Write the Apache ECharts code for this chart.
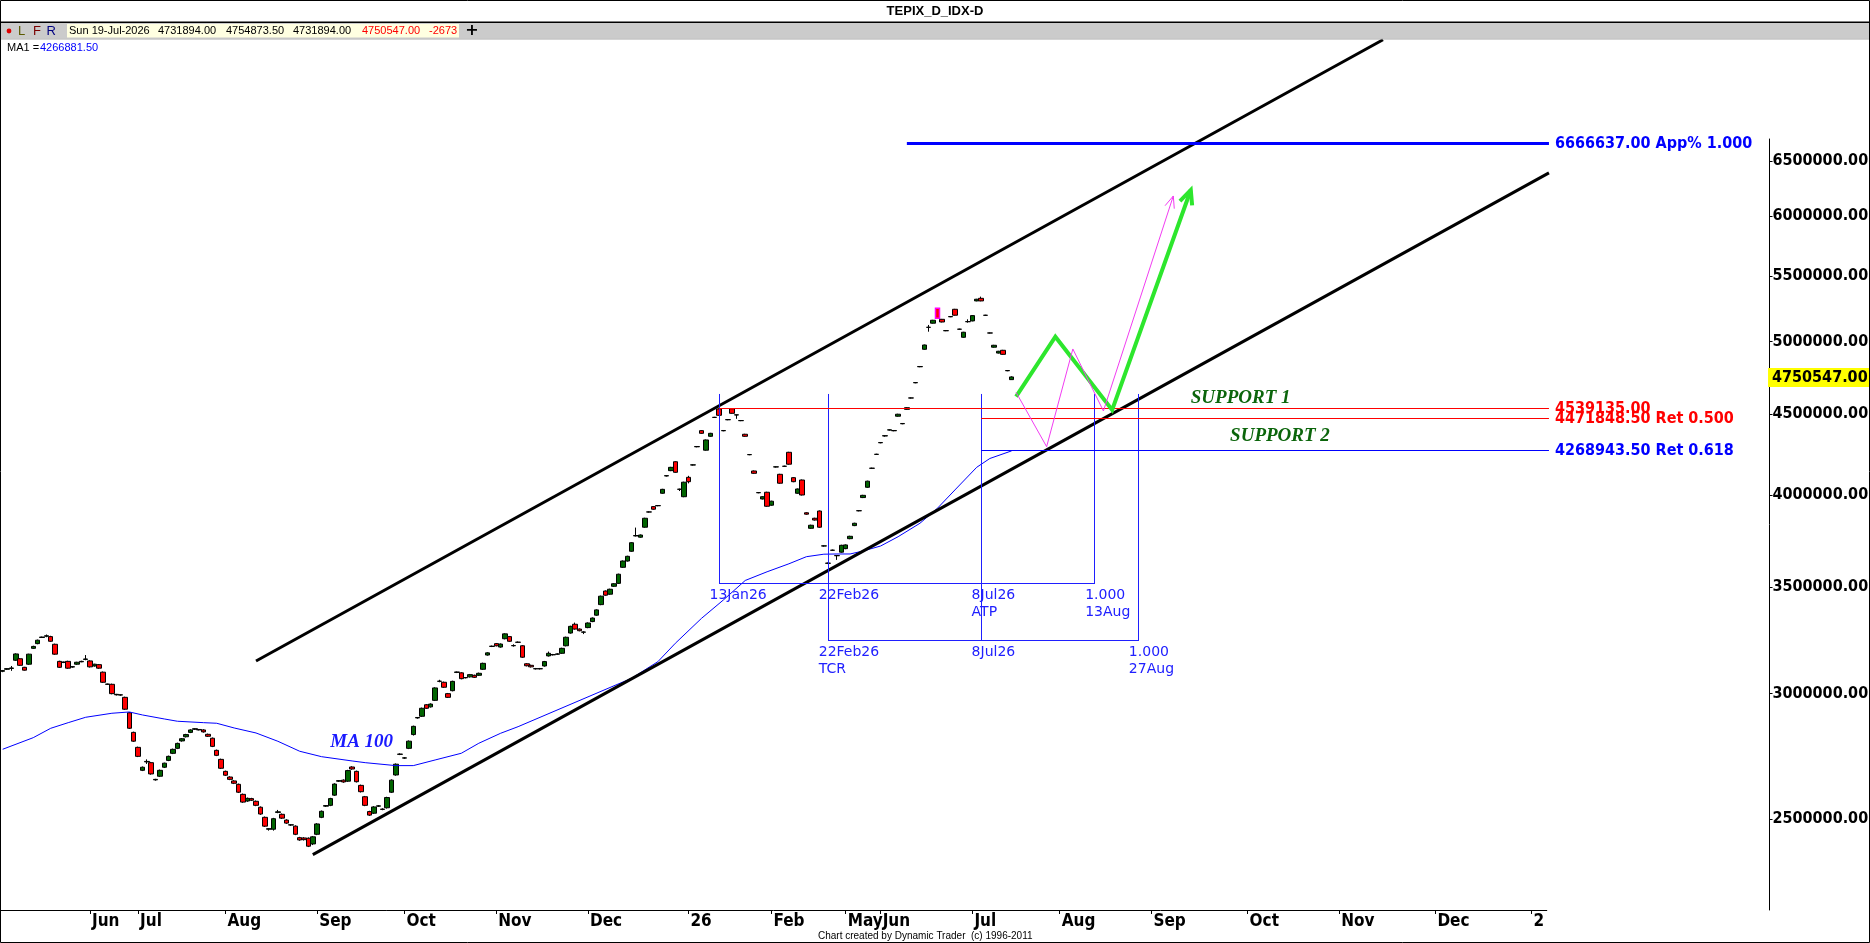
<!DOCTYPE html>
<html>
<head>
<meta charset="utf-8">
<title>TEPIX_D_IDX-D</title>
<script src="https://cdn.jsdelivr.net/npm/echarts@6.0.0/dist/echarts.min.js"></script>
<style>
html, body { margin: 0; padding: 0; background: #fff; overflow: hidden; }
#chart { width: 1870px; height: 943px; }
</style>
</head>
<body>
<div id="chart"></div>
<script>
// ---------------- DATA (index points, in thousands) ----------------
const UNIT = 1000;

const opens = [
3098,3107,3111,3148,3155,3116,3130,3203,3225,3254,
3260,3258,3222,3143,3138,3143,3117,3130,3141,3152,
3145,3122,3128,3094,3040,3040,2994,2993,2983,2917,
2835,2774,2683,2716,2713,2646,2660,2695,2722,2750,
2770,2800,2817,2835,2848,2847,2845,2827,2811,2762,
2726,2679,2657,2642,2629,2591,2566,2575,2565,2543,
2506,2463,2463,2524,2517,2496,2478,2474,2433,2432,
2431,2411,2445,2506,2547,2550,2588,2641,2645,2641,
2696,2679,2625,2582,2527,2521,2547,2536,2541,2599,
2665,2746,2731,2770,2826,2895,2902,2951,2942,2970,
3053,3049,2999,3012,3093,3091,3069,3073,3080,3080,
3107,3172,3212,3225,3209,3248,3258,3215,3231,3215,
3132,3125,3110,3109,3122,3168,3173,3176,3180,3215,
3275,3317,3294,3279,3301,3330,3361,3413,3481,3465,
3505,3520,3603,3636,3688,3771,3764,3819,3904,3935,
3940,4012,4114,4146,4200,4035,3992,4106,4180,4292,
4394,4271,4358,4479,4535,4393,4464,4536,4495,4458,
4371,4243,4144,4015,3979,4018,3943,4168,4124,4172,
4258,4104,4012,4090,3900,3813,3869,3910,3716,3624,
3693,3664,3683,3702,3756,3828,3911,3987,4047,4160,
4245,4317,4360,4398,4393,4487,4438,4532,4607,4710,
4821,4945,5105,5136,5248,5165,5080,5184,5241,5091,
5032,5147,5153,5305,5325,5195,5063,4960,4918,4938,
4793,4731.894
];
const closes = [
3101,3110,3113,3177,3125,3103,3176,3212,3241,3256,
3262,3236,3176,3116,3140,3112,3119,3139,3143,3154,
3118,3130,3112,3049,3041,2999,2996,2994,2932,2852,
2799,2738,2695,2718,2669,2648,2683,2711,2738,2766,
2790,2809,2826,2845,2850,2845,2837,2819,2778,2742,
2691,2664,2648,2633,2599,2562,2576,2569,2550,2518,
2474,2465,2501,2526,2503,2485,2479,2445,2425,2426,
2403,2436,2482,2528,2549,2575,2630,2643,2638,2682,
2688,2639,2601,2550,2514,2544,2548,2535,2579,2645,
2707,2747,2732,2799,2860,2897,2936,2936,2954,3024,
3054,3027,2983,3053,3095,3065,3070,3083,3071,3089,
3134,3182,3213,3215,3223,3271,3236,3216,3232,3162,
3123,3118,3109,3110,3142,3180,3174,3177,3203,3255,
3307,3294,3286,3280,3323,3347,3387,3455,3460,3490,
3518,3567,3636,3661,3734,3773,3776,3869,3905,3920,
3941,4035,4116,4166,4136,4036,4077,4080,4181,4294,
4377,4335,4377,4480,4493,4395,4465,4506,4496,4459,
4358,4244,4130,4016,3992,3937,3966,4169,4071,4173,
4185,4080,4037,4002,3892,3830,3859,3819,3717,3625,
3694,3665,3720,3722,3769,3841,3912,4000,4083,4161,
4246,4319,4362,4399,4395,4500,4440,4543,4608,4712,
4823,4976,5106,5158,5173,5145,5081,5186,5196,5092,
5069,5148,5193,5318,5305,5196,5064,4974,4931,4909,
4795,4750.547
];
const lows = [
3094,3104,3100,3145,3122,3101,3127,3200,3222,3252,
3255,3233,3173,3113,3135,3109,3114,3127,3139,3148,
3115,3119,3109,3046,3037,2996,2991,2990,2929,2849,
2796,2735,2680,2708,2666,2643,2657,2692,2719,2747,
2767,2797,2814,2832,2845,2843,2834,2816,2775,2739,
2688,2661,2645,2630,2596,2559,2563,2566,2547,2515,
2471,2458,2458,2521,2500,2482,2475,2442,2422,2423,
2400,2407,2442,2503,2544,2547,2585,2638,2635,2638,
2685,2636,2598,2547,2511,2518,2544,2532,2538,2596,
2662,2743,2728,2767,2822,2892,2899,2933,2939,2967,
3049,3024,2980,3009,3090,3062,3066,3070,3068,3077,
3104,3169,3209,3212,3206,3245,3233,3211,3228,3159,
3120,3115,3106,3106,3119,3165,3170,3173,3177,3212,
3272,3291,3283,3270,3298,3327,3358,3410,3457,3462,
3502,3517,3600,3633,3685,3768,3761,3816,3901,3917,
3937,4009,4111,4143,4133,4025,3989,4070,4177,4289,
4374,4268,4355,4476,4490,4390,4461,4503,4470,4455,
4355,4240,4127,4012,3976,3934,3940,4165,4068,4169,
4182,4077,4009,3999,3889,3810,3856,3816,3713,3620,
3690,3642,3680,3699,3753,3825,3908,3984,4044,4157,
4242,4314,4356,4395,4390,4484,4435,4529,4604,4707,
4818,4942,5073,5133,5170,5142,5077,5181,5193,5088,
5029,5140,5150,5302,5302,5192,5060,4957,4915,4906,
4790,4731.894
];
const highs = [
3104,3112,3122,3180,3158,3118,3178,3215,3244,3258,
3268,3262,3225,3146,3142,3146,3121,3141,3146,3172,
3148,3132,3131,3097,3043,3043,2998,2996,2986,2920,
2838,2777,2698,2726,2716,2650,2686,2713,2741,2769,
2793,2812,2829,2848,2852,2849,2848,2830,2814,2765,
2729,2682,2660,2645,2632,2594,2579,2578,2568,2546,
2509,2467,2504,2533,2520,2499,2481,2477,2436,2435,
2434,2439,2485,2531,2551,2578,2633,2645,2648,2685,
2699,2682,2628,2585,2530,2547,2551,2539,2582,2648,
2710,2750,2735,2802,2863,2899,2939,2954,2957,3027,
3060,3052,3002,3056,3097,3094,3072,3086,3083,3092,
3137,3185,3216,3228,3226,3274,3261,3222,3235,3218,
3135,3128,3113,3113,3145,3188,3177,3180,3206,3258,
3310,3325,3297,3283,3326,3350,3390,3458,3484,3493,
3521,3570,3639,3664,3737,3817,3779,3872,3908,3938,
3944,4038,4118,4169,4203,4039,4080,4115,4184,4296,
4397,4338,4380,4483,4539.135,4397,4468,4538,4497,4462,
4374,4247,4147,4019,3995,4021,3969,4172,4127,4176,
4261,4107,4040,4093,3903,3833,3872,3913,3720,3628,
3697,3668,3723,3725,3772,3844,3915,4003,4086,4164,
4249,4322,4365,4402,4397,4503,4442,4546,4611,4715,
4826,4979,5123,5161,5251,5168,5084,5189,5244,5095,
5072,5165,5196,5321,5338,5199,5067,4977,4934,4941,
4797,4754.8735
];
const markedCandle = 214;

// 100-period moving average (bar index, value in thousands)
const maIdx = [0,7,11,15,19,25,29,32,37,40,46,49,53,58,63,68,73,80,83,90,94,99,105,109,114,118,
  144,150,154,160,165,170,175,180,184,188,191,194,197,201,205,210,214,218,223,226,231];
const maVal = [2766.3,2813.3,2851.9,2875.3,2897.9,2914.8,2920.3,2907.6,2890.8,2881.2,2875.3,2872.8,
  2853.2,2832.5,2798.6,2758.3,2736.7,2719.7,2713.0,2701.4,2701.4,2723.6,2750.3,2790.5,2831.3,2858.6,
  3066.8,3141.6,3226.7,3345.9,3436.1,3534.8,3579.7,3621.5,3659.0,3672.3,3673.4,3673.4,3689.5,3716.3,
  3766.8,3841.0,3925.5,4031.3,4166.4,4219.8,4266.8815];

// x-axis (bar index of each month tick)
const monthTickIdx = [20,31,51,72,92,113,134,157,176,193,201,222,242,263,285,306,328,350];
const monthTickLabels = ['Jun','Jul','Aug','Sep','Oct','Nov','Dec','26','Feb','May','Jun','Jul','Aug','Sep','Oct','Nov','Dec','2'];

// y-axis ticks
const yTickValues = [2500000,3000000,3500000,4000000,4500000,5000000,5500000,6000000,6500000];

// price levels (projection / retracements)
const levelPrices = [6666637, 4539135, 4471848.5, 4268943.5];
const levelStart = [207, 164, 224, 224];
const levelEnd = 354;
const levelText = ['6666637.00 App% 1.000', '4539135.00', '4471848.50 Ret 0.500', '4268943.50 Ret 0.618'];

// trend channel (bar index, price)
const upperChannel = [58, 3144400, 316, 7752300];
const lowerChannel = [71, 2373700, 354, 6388900];

// time cycle boxes
const cycleTop = 4634300;
const cycleBottomA = 3516900;
const cycleBottomB = 3237500;
const cycleSegments = [
  [164, cycleTop, 164, cycleBottomA],
  [189, cycleTop, 189, cycleBottomB],
  [224, cycleTop, 224, cycleBottomB],
  [250, cycleTop, 250, cycleBottomA],
  [260, cycleTop, 260, cycleBottomB],
  [164, cycleBottomA, 250, cycleBottomA],
  [189, cycleBottomB, 260, cycleBottomB]
];
const cycleLabelAnchors = [[164, cycleBottomA],[189, cycleBottomA],[224, cycleBottomA],[250, cycleBottomA],
  [189, cycleBottomB],[224, cycleBottomB],[260, cycleBottomB]];
const cycleLabelTexts = ['13Jan26','22Feb26','8Jul26\nATP','1.000\n13Aug','22Feb26\nTCR','8Jul26','1.000\n27Aug'];

// projected paths
const greenPath = [[232, 4616000],[241, 5036400],[254, 4527900],[272, 6232400]];
const pinkPath = [[232, 4645700],[239, 4292900],[245, 4947300],[252, 4521300],[268, 6178100]];

// annotations
const supportAnchors = [[272, 4607400],[281, 4361300]];
const supportTexts = ['SUPPORT 1','SUPPORT 2'];
const maLabelAnchor = [[75, 2795800]];
const maLabelText = ['MA 100'];

const headerDate = 'Sun 19-Jul-2026';
const headerChange = '-2673';

// ---------------- LAYOUT / STYLE ----------------
const W = 1870, H = 943;
const SLOT = 4.368;
const N_SLOTS = 405, N_AXIS_SLOTS = 354;
const PLOT_LEFT = 0.5, PLOT_TOP = 40, PLOT_H = 870;
const AXIS_TOP = 139;
const Y_MIN = 2190400, Y_MAX = 7749000;
const AXIS_FONT = 'bold 16px "DejaVu Sans Condensed"';
const CYCLE_FONT = '14px "DejaVu Sans"';
const NOTE_FONT = 'italic bold 19px "Liberation Serif"';
const HDR_FONT = '11px "Liberation Sans"';

const lastIdx = opens.length - 1;
const candleData = opens.map((o, i) => {
  const v = [o * UNIT, closes[i] * UNIT, lows[i] * UNIT, highs[i] * UNIT];
  if (i === markedCandle) {
    return { value: v, itemStyle: { borderColor: '#ff00ff', borderColor0: '#ff00ff', borderWidth: 1.5 } };
  }
  return v;
});
const maData = maIdx.map((x, i) => [x, maVal[i] * UNIT]);

const lnMin = Math.log(Y_MIN);
const lnMax = Math.log(Y_MAX);
const lnMaxAxis = lnMin + (PLOT_TOP + PLOT_H - AXIS_TOP) / PLOT_H * (lnMax - lnMin);
const yTickLn = yTickValues.map(v => Math.log(v));
const isMonthTick = (i) => monthTickIdx.indexOf(i) >= 0;

function snap(v, w) { return (Math.round(w) % 2 === 1) ? Math.floor(v) + 0.5 : Math.round(v); }

function textStyle(text, font, fill, align, vAlign, lineHeight) {
  const s = { text, font, fill, align, verticalAlign: vAlign, textAlign: align, textVerticalAlign: vAlign };
  if (lineHeight) s.lineHeight = lineHeight;
  return s;
}

function segmentSeries(segs, color, width, z) {
  return {
    type: 'custom', xAxisIndex: 0, yAxisIndex: 0, silent: true, clip: false, z: z,
    data: segs,
    renderItem: (params, api) => {
      const a = api.coord([api.value(0), api.value(1)]);
      const b = api.coord([api.value(2), api.value(3)]);
      let x1 = a[0], y1 = a[1], x2 = b[0], y2 = b[1];
      if (Math.abs(x1 - x2) < 0.01) { x1 = x2 = snap(x1, width); }
      if (Math.abs(y1 - y2) < 0.01) { y1 = y2 = snap(y1, width); }
      return { type: 'line', shape: { x1, y1, x2, y2 }, style: { stroke: color, lineWidth: width } };
    }
  };
}

function textSeries(anchors, texts, font, color, dx, dy, align, vAlign, lineHeight) {
  return {
    type: 'custom', xAxisIndex: 0, yAxisIndex: 0, silent: true, clip: false, z: 8,
    data: anchors,
    renderItem: (params, api) => {
      const p = api.coord([api.value(0), api.value(1)]);
      return { type: 'text', x: p[0] + dx, y: p[1] + dy,
        style: textStyle(texts[params.dataIndex], font, color, align, vAlign, lineHeight) };
    }
  };
}

function arrowSeries(points, color, width, wing, spread) {
  return {
    type: 'custom', xAxisIndex: 0, yAxisIndex: 0, silent: true, clip: false, z: 6,
    data: [points[0]],
    renderItem: (params, api) => {
      const pts = points.map(p => api.coord(p));
      const tip = pts[pts.length - 1], prev = pts[pts.length - 2];
      const ang = Math.atan2(tip[1] - prev[1], tip[0] - prev[0]);
      const w1 = [tip[0] - wing * Math.cos(ang - spread), tip[1] - wing * Math.sin(ang - spread)];
      const w2 = [tip[0] - wing * Math.cos(ang + spread), tip[1] - wing * Math.sin(ang + spread)];
      return { type: 'group', children: [
        { type: 'polyline', shape: { points: pts }, style: { stroke: color, lineWidth: width, fill: null, lineJoin: 'miter' } },
        { type: 'polyline', shape: { points: [w1, tip, w2] }, style: { stroke: color, lineWidth: width, fill: null } }
      ] };
    }
  };
}

const levelColors = ['#0000ff', '#ff0000', '#ff0000', '#0000ff'];
const levelWidths = [3, 1, 1, 1];

const levelSeries = {
  type: 'custom', xAxisIndex: 0, yAxisIndex: 0, silent: true, clip: false, z: 5,
  data: levelPrices.map((p, i) => [levelStart[i], p, levelEnd, p]),
  renderItem: (params, api) => {
    const i = params.dataIndex;
    const a = api.coord([api.value(0), api.value(1)]);
    const b = api.coord([api.value(2), api.value(3)]);
    const y = snap(a[1], levelWidths[i]);
    return { type: 'group', children: [
      { type: 'line', shape: { x1: a[0], y1: y, x2: b[0], y2: y }, style: { stroke: levelColors[i], lineWidth: levelWidths[i] } },
      { type: 'text', x: b[0] + 6, y: a[1] + 0.5, style: textStyle(levelText[i], AXIS_FONT, levelColors[i], 'left', 'middle') }
    ] };
  }
};

const lastPriceSeries = {
  type: 'custom', xAxisIndex: 0, yAxisIndex: 0, silent: true, clip: false, z: 9,
  data: [[lastIdx, closes[lastIdx] * UNIT]],
  renderItem: (params, api) => {
    const y = api.coord([api.value(0), api.value(1)])[1];
    const x0 = params.coordSys.x + params.coordSys.width - 1.5;
    return { type: 'group', children: [
      { type: 'rect', shape: { x: x0, y: Math.round(y) - 9, width: W - 1 - x0, height: 19 }, style: { fill: '#ffff00' } },
      { type: 'text', x: x0 + 4, y: y + 0.5, style: textStyle(api.value(1).toFixed(2), AXIS_FONT, '#000', 'left', 'middle') }
    ] };
  }
};

function gText(x, y, text, font, fill, align, vAlign) {
  return { type: 'text', x, y, z: 101, silent: true, style: textStyle(text, font, fill, align || 'left', vAlign || 'middle') };
}
function gRect(x, y, w, h, fill, stroke) {
  return { type: 'rect', z: 100, silent: true, shape: { x, y, width: w, height: h },
    style: stroke ? { fill: 'none', stroke, lineWidth: 1 } : { fill } };
}
const fmt = v => (Math.round(v * 100) / 100).toFixed(2);

const graphics = [
  gRect(0, 0, W, 22, '#ffffff'),
  gRect(0, 21.5, W, 1.5, '#000000'),
  gRect(0, 23, W, 15.5, '#cbcbcb'),
  gRect(0, 38.5, W, 1, '#a9a9a9'),
  gText(935, 11, 'TEPIX_D_IDX-D', 'bold 13px "Liberation Sans"', '#000', 'center', 'middle'),
  { type: 'circle', z: 101, silent: true, shape: { cx: 9, cy: 31, r: 2.4 }, style: { fill: '#e00000' } },
  gText(18, 31, 'L', '13px "Liberation Sans"', '#5a5a00'),
  gText(33, 31, 'F', '13px "Liberation Sans"', '#7a0000'),
  gText(46.5, 31, 'R', '13px "Liberation Sans"', '#000080'),
  gRect(67, 24, 392, 13.5, '#ffffe1'),
  gText(69, 31, headerDate, HDR_FONT, '#000'),
  gText(158, 31, fmt(opens[lastIdx] * UNIT), HDR_FONT, '#000'),
  gText(226, 31, fmt(highs[lastIdx] * UNIT), HDR_FONT, '#000'),
  gText(293, 31, fmt(lows[lastIdx] * UNIT), HDR_FONT, '#000'),
  gText(362, 31, fmt(closes[lastIdx] * UNIT), HDR_FONT, '#ff0000'),
  gText(429, 31, headerChange, HDR_FONT, '#ff0000'),
  gText(472, 31, '+', 'bold 16px "DejaVu Sans"', '#000', 'center', 'middle'),
  gText(7, 48, 'MA1 =', HDR_FONT, '#000'),
  gText(40, 48, fmt(maVal[maVal.length - 1] * UNIT), HDR_FONT, '#0000ff'),
  gText(818, 936.5, 'Chart created by Dynamic Trader  (c) 1996-2011', '10px "Liberation Sans"', '#000'),
  gRect(0.5, 0.5, W - 1, H - 1, null, '#000')
];

const option = {
  animation: false,
  backgroundColor: '#ffffff',
  grid: [
    { left: PLOT_LEFT, top: PLOT_TOP, width: N_SLOTS * SLOT, height: PLOT_H, containLabel: false, outerBoundsMode: 'none' },
    { left: PLOT_LEFT, top: PLOT_TOP, width: N_AXIS_SLOTS * SLOT, height: PLOT_H, containLabel: false, outerBoundsMode: 'none' },
    { left: PLOT_LEFT + N_SLOTS * SLOT - 1, top: AXIS_TOP, width: 1, height: PLOT_TOP + PLOT_H - AXIS_TOP, containLabel: false, outerBoundsMode: 'none' }
  ],
  xAxis: [
    { gridIndex: 0, type: 'category', data: Array.from({ length: N_SLOTS }, (_, i) => String(i)), boundaryGap: true, show: false },
    { gridIndex: 1, type: 'category', data: Array.from({ length: N_AXIS_SLOTS }, (_, i) => String(i)), boundaryGap: true,
      position: 'bottom',
      axisLine: { show: true, onZero: false, lineStyle: { color: '#000', width: 1 } },
      axisTick: { show: true, alignWithLabel: true, interval: isMonthTick, length: 4, inside: false, lineStyle: { color: '#000', width: 1 } },
      axisLabel: { show: true, interval: isMonthTick, hideOverlap: false,
        formatter: (v) => monthTickLabels[monthTickIdx.indexOf(Number(v))],
        align: 'left', padding: [0, 0, 0, 2], margin: 3,
        color: '#000', fontFamily: 'DejaVu Sans Condensed', fontWeight: 'bold', fontSize: 17 },
      splitLine: { show: false } },
    { gridIndex: 2, type: 'value', show: false }
  ],
  yAxis: [
    { gridIndex: 0, type: 'log', logBase: 10, min: Y_MIN, max: Y_MAX, show: false, splitLine: { show: false } },
    { gridIndex: 1, type: 'value', show: false },
    { gridIndex: 2, type: 'value', position: 'right', min: lnMin, max: lnMaxAxis, scale: true,
      axisLine: { show: true, onZero: false, lineStyle: { color: '#000', width: 1 } },
      axisTick: { show: true, inside: false, length: 3, customValues: yTickLn, lineStyle: { color: '#000' } },
      axisLabel: { show: true, customValues: yTickLn, margin: 3, hideOverlap: false,
        formatter: (v) => {
          let best = yTickValues[0];
          yTickValues.forEach(t => { if (Math.abs(Math.log(t) - v) < Math.abs(Math.log(best) - v)) best = t; });
          return best.toFixed(2);
        },
        color: '#000', fontFamily: 'DejaVu Sans Condensed', fontWeight: 'bold', fontSize: 16 },
      splitLine: { show: false } }
  ],
  series: [
    { type: 'candlestick', name: 'TEPIX', xAxisIndex: 0, yAxisIndex: 0, data: candleData, barWidth: 5, silent: true, z: 2,
      itemStyle: { color: '#006400', color0: '#ff0000', borderColor: '#000', borderColor0: '#000', borderColorDoji: '#000', borderWidth: 1 } },
    { type: 'line', name: 'MA 100', xAxisIndex: 0, yAxisIndex: 0, data: maData, symbol: 'none', silent: true, z: 3,
      lineStyle: { color: '#0000ff', width: 1 } },
    segmentSeries([upperChannel, lowerChannel], '#000000', 3, 4),
    segmentSeries(cycleSegments, '#1f1fff', 1, 4),
    levelSeries,
    arrowSeries(greenPath, '#2de62d', 4, 15.5, 0.43),
    arrowSeries(pinkPath, '#f23cf2', 1, 12.7, 0.39),
    textSeries(cycleLabelAnchors, cycleLabelTexts, CYCLE_FONT, '#2020ff', -9.5, 2.5, 'left', 'top', 17),
    textSeries(supportAnchors, supportTexts, NOTE_FONT, '#0b650b', 0, 0, 'left', 'middle'),
    textSeries(maLabelAnchor, maLabelText, NOTE_FONT, '#1a1aff', 0, 0, 'left', 'middle'),
    lastPriceSeries
  ],
  graphic: { elements: graphics }
};

const chart = echarts.init(document.getElementById('chart'), null, { renderer: 'canvas', width: W, height: H });
chart.setOption(option);
</script>
</body>
</html>
